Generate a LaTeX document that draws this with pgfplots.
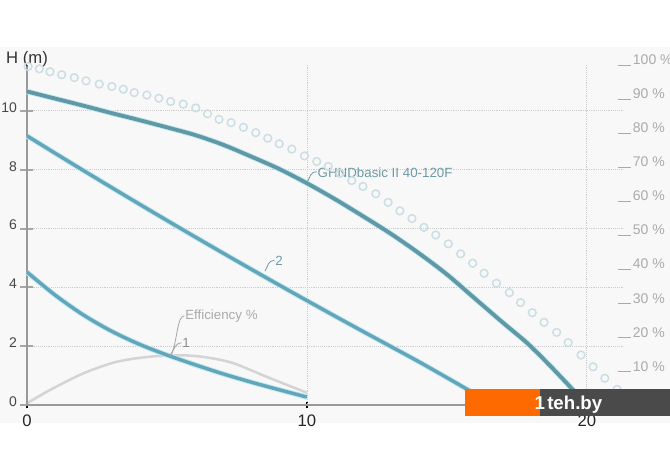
\documentclass[border=0pt]{standalone}
\usepackage{fontspec}
\setmainfont{Liberation Sans}
\usepackage{pgfplots}
\pgfplotsset{compat=1.18}
\definecolor{bgband}{HTML}{F8F8F8}
\definecolor{gridc}{HTML}{CCCCCC}
\definecolor{maincurve}{RGB}{96,152,166}
\definecolor{subcurve}{RGB}{99,166,186}
\definecolor{halo}{RGB}{196,234,243}
\definecolor{circc}{RGB}{203,222,228}
\definecolor{effc}{RGB}{212,212,212}
\definecolor{pctc}{HTML}{AAAAAA}
\definecolor{labc}{RGB}{110,154,166}
\definecolor{wmorange}{HTML}{FF6A00}
\definecolor{wmgray}{HTML}{4A4A4A}
\newcommand\pu{\rule[-1pt]{10pt}{0.7pt}\hspace{1.5pt}}
\begin{document}
\begin{tikzpicture}
\fill[white] (-20.25pt,-49.5pt) rectangle (482.25pt,303.75pt);
\fill[bgband] (-20.25pt,-13.5pt) rectangle (482.25pt,268.5pt);
% percent axis (right)
\begin{axis}[at={(0,0)},anchor=south west,scale only axis,width=447pt,height=255pt,
  xmin=0,xmax=21.29,ymin=0,ymax=100,
  axis x line=bottom, axis y line=right, axis line style={draw=none},
  xtick={0,10,20}, xticklabels={}, x tick style={black,line width=1.2pt},
  major tick length=5pt, tick align=center,
  ytick={10,20,...,100}, y tick style={draw=none},
  yticklabel={\pu\pgfmathprintnumber[assume math mode=true]{\tick}\ \%},
  yticklabel style={anchor=base west, inner sep=0pt, xshift=-6.75pt, font=\fontsize{10.5}{12}\selectfont, text=pctc},
  clip=false]
\addplot[effc, line width=1.9pt, smooth] coordinates {
(0,0.5) (0.82,4.4) (2.01,9.3) (3.2,12.7) (4.39,14.2) (5.57,14.6) (6.42,14.0) (7.37,12.3) (8.56,8.3) (10,3.6)};
\end{axis}
% head axis (left)
\begin{axis}[at={(0,0)},anchor=south west,scale only axis,width=447pt,height=255pt,
  xmin=0,xmax=21.29,ymin=0,ymax=11.56,
  axis x line=bottom, axis y line=left, axis line style={-, draw=black!40, line width=0.9pt},
  xtick={0,10,20}, x tick style={draw=none},
  ytick={0,2,...,10}, y tick style={draw=black!35, line width=1.5pt},
  major tick length=9.75pt, tick align=center,
  grid=major, major grid style={gridc, densely dotted, line width=0.6pt},
  /pgf/number format/assume math mode=true,
  xticklabel style={font=\fontsize{12.5}{14}\selectfont, text=black!85, anchor=north, inner sep=0pt, yshift=-2.25pt},
  yticklabel style={font=\fontsize{10.5}{12}\selectfont, text=black!72, anchor=east, inner sep=0pt, xshift=-2.5pt, yshift=2.6pt},
  clip=false]
% circles series
\addplot[only marks, mark=o, mark size=2.9pt, mark options={draw=circc, line width=1.1pt}] coordinates {
(0.04,11.51) (0.44,11.43) (0.82,11.33) (1.24,11.23) (1.69,11.13) (2.11,11.02) (2.58,10.91) (3.03,10.83)
(3.44,10.74) (3.83,10.62) (4.28,10.54) (4.71,10.43) (5.13,10.32) (5.58,10.23) (6.03,10.10) (6.45,9.90)
(6.86,9.71) (7.29,9.60) (7.73,9.44) (8.17,9.26) (8.6,9.07) (9.01,8.88) (9.46,8.70) (9.91,8.47)
(10.35,8.28) (10.76,8.11) (11.18,7.88) (11.6,7.63) (12.0,7.43) (12.46,7.18) (12.9,6.89) (13.32,6.6)
(13.75,6.34) (14.18,6.04) (14.6,5.78) (15.05,5.48) (15.49,5.14) (15.92,4.82) (16.33,4.48) (16.77,4.14)
(17.23,3.82) (17.63,3.48) (18.05,3.14) (18.47,2.81) (18.92,2.47) (19.33,2.12) (19.79,1.70) (20.22,1.30)
(20.64,0.91) (21.08,0.53)};
% main curve
\addplot[halo, line width=4.2pt, smooth] coordinates {
(0,10.66) (1,10.42) (2,10.18) (3,9.93) (4,9.69) (5,9.44) (6,9.18) (7,8.85) (8,8.45) (9,8.03) (10,7.54)
(11,7.0) (12,6.42) (13,5.82) (14,5.16) (15,4.44) (16,3.62) (17,2.8) (17.85,2.12) (18.6,1.42) (19.4,0.62) (19.75,0.25)};
\addplot[maincurve, line width=2.9pt, smooth] coordinates {
(0,10.66) (1,10.42) (2,10.18) (3,9.93) (4,9.69) (5,9.44) (6,9.18) (7,8.85) (8,8.45) (9,8.03) (10,7.54)
(11,7.0) (12,6.42) (13,5.82) (14,5.16) (15,4.44) (16,3.62) (17,2.8) (17.85,2.12) (18.6,1.42) (19.4,0.62) (19.75,0.25)};
% curve 2
\addplot[halo, line width=4pt, smooth] coordinates {
(0,9.15) (1,8.563) (2,7.982) (3,7.407) (4,6.838) (5,6.275) (6,5.718) (7,5.167) (8,4.622) (9,4.083) (10,3.55)
(11,3.023) (12,2.502) (13,1.987) (14,1.47) (15,0.93) (16,0.38) (16.4,0.15)};
\addplot[subcurve, line width=2.6pt, smooth] coordinates {
(0,9.15) (1,8.563) (2,7.982) (3,7.407) (4,6.838) (5,6.275) (6,5.718) (7,5.167) (8,4.622) (9,4.083) (10,3.55)
(11,3.023) (12,2.502) (13,1.987) (14,1.47) (15,0.93) (16,0.38) (16.4,0.15)};
% curve 1
\addplot[halo, line width=4pt, smooth] coordinates {
(0,4.52) (1,3.74) (2,3.07) (3,2.52) (4,2.07) (5,1.7) (6,1.37) (7,1.06) (8,0.78) (9,0.52) (10,0.27)};
\addplot[subcurve, line width=2.6pt, smooth] coordinates {
(0,4.52) (1,3.74) (2,3.07) (3,2.52) (4,2.07) (5,1.7) (6,1.37) (7,1.06) (8,0.78) (9,0.52) (10,0.27)};
% annotations
\draw[labc, line width=0.6pt] (axis cs:10,7.55) .. controls (axis cs:10.12,7.75) and (axis cs:10.1,7.92) .. (axis cs:10.35,7.93);
\node[anchor=west, inner sep=0.5pt, text=labc, font=\fontsize{10}{12}\selectfont] at (axis cs:10.35,7.9) {GHNDbasic II 40-120F};
\draw[labc, line width=0.6pt] (axis cs:8.5,4.55) .. controls (axis cs:8.62,4.75) and (axis cs:8.6,4.9) .. (axis cs:8.84,4.92);
\node[anchor=west, inner sep=0.5pt, text=labc, font=\fontsize{10}{12}\selectfont] at (axis cs:8.84,4.9) {2};
\draw[black!35, line width=0.6pt] (axis cs:5.15,1.68) .. controls (axis cs:5.4,2.3) and (axis cs:5.35,3.0) .. (axis cs:5.62,3.03);
\node[anchor=west, inner sep=0.5pt, text=pctc, font=\fontsize{10}{12}\selectfont] at (axis cs:5.62,3.03) {Efficiency \%};
\draw[black!35, line width=0.6pt] (axis cs:5.1,1.68) .. controls (axis cs:5.3,1.95) and (axis cs:5.3,2.1) .. (axis cs:5.52,2.12);
\node[anchor=west, inner sep=0.5pt, text=black!45, font=\fontsize{10}{12}\selectfont] at (axis cs:5.52,2.11) {1};
\node[anchor=base, inner sep=0pt, text=black!80, font=\fontsize{12.5}{14}\selectfont] at (rel axis cs:0,1) [yshift=0.8pt] {H (m)};
\end{axis}
% watermark
\fill[wmorange] (328.5pt,-8.25pt) rectangle (384.75pt,12pt);
\fill[wmgray] (384.75pt,-8.25pt) rectangle (482.25pt,12pt);
\node[anchor=base west, text=white, font=\bfseries\fontsize{14}{16}\selectfont, inner sep=0pt] at (380.5pt,-3pt) {1};
\node[anchor=base west, text=white, font=\bfseries\fontsize{14}{16}\selectfont, inner sep=0pt] at (390pt,-3pt) {teh.by};
\pgfresetboundingbox
\useasboundingbox (-20.25pt,-49.5pt) rectangle (482.25pt,303.75pt);
\end{tikzpicture}
\end{document}
